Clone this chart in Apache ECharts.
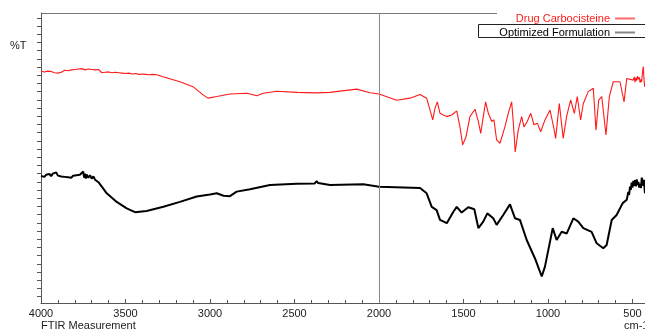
<!DOCTYPE html>
<html>
<head>
<meta charset="utf-8">
<script src="https://cdn.jsdelivr.net/npm/echarts@6/dist/echarts.min.js"></script>
<style>html,body{margin:0;padding:0;background:#fff}#c{width:645px;height:331px}</style>
</head>
<body>
<div id="c"></div>
<script>
// Drug Carbocisteine spectrum (wavenumber cm-1, %T in arbitrary units)
var drugWn = [4000,3990,3980,3970,3960,3950,3940,3930,3920,3910,3900,3890,3880,3870,3860,3850,3840,3830,3820,3810,3800,3790,3780,3770,3760,3750,3740,3730,3720,3710,3700,3690,3680,3670,3660,3650,3640,3630,3620,3610,3600,3590,3580,3570,3560,3550,3540,3530,3520,3500,3480,3460,3440,3420,3400,3380,3360,3340,3315,
3278,3178,3101,3041,3012,2959,2882,2781,2722,2686,2604,2485,2367,2290,2132,2053,2000,1895,1817,1757,1718,1698,1682,1669,1655,1639,1620,1599,1570,1540,1521,1505,1485,1462,1432,1412,1398,1383,1369,1353,1333,1320,1304,1284,1255,1235,1215,1205,1194,1176,1156,1142,1123,1102,1083,1063,1043,1018,988,965,955,933,910,890,866,844,827,807,791,762,732,716,700,682,657,637,614,574,550,534,495,490,485,480,475,470,466,460,455,450,446,440,436,432,428];
var drugT = [59.0,59.3,58.8,59.2,59.0,59.4,58.9,59.1,58.6,58.9,58.5,58.9,58.7,59.0,59.2,58.8,59.1,59.0,59.3,59.0,59.4,59.1,59.5,59.2,59.6,60.0,59.3,59.2,59.5,59.3,59.4,59.1,59.3,59.0,59.4,59.8,58.6,58.3,58.7,58.4,58.8,58.5,58.6,58.4,58.7,58.5,58.6,58.4,58.5,58.4,58.5,58.3,58.4,58.2,58.3,58.2,58.1,58.2,58.1,
57.6,56.4,55.2,53.2,52.4,52.8,53.4,53.6,53.0,53.6,54.1,53.8,53.7,53.8,54.6,53.7,53.4,51.9,52.4,53.3,52.4,49.5,47.1,49.9,51.5,48.7,48.3,47.9,48.3,49.3,45.4,41.0,43.0,47.9,49.7,46.7,43.8,47.9,51.5,48.7,46.7,47.1,42.2,41.4,45.4,48.7,51.5,46.3,39.3,44.6,47.9,45.4,46.7,48.7,45.9,46.3,44.2,47.1,49.5,45.0,42.6,51.1,42.6,47.9,52.0,48.7,52.8,47.1,51.1,54.0,54.8,44.6,51.9,52.8,43.4,52.8,56.4,56.4,51.5,57.2,56.8,57.6,56.3,57.4,56.7,57.8,57.0,57.5,56.2,57.0,56.4,59.0,60.1,57.0,55.2];

// Optimized Formulation spectrum
var formWn = [4000,3990,3980,3970,3960,3950,3940,3930,3920,3910,3900,3890,3880,3870,3860,3850,3840,3830,3820,3810,3800,3790,3780,3770,3760,3750,3745,3740,3735,3730,3720,3710,3700,3690,3680,3670,3660,3651,3611,3552,3493,3444,3375,3276,3178,3079,3000,2960,2920,2882,2842,2763,2645,2487,2380,2369,2360,2290,2093,2000,1757,1718,1688,1659,1639,1599,1560,1540,1511,1472,1436,1412,1383,1359,1324,1304,1265,1225,1195,1166,1126,1077,1037,1018,972,949,919,889,850,821,791,742,712,673,653,623,594,558,534,525,520,515,510,505,500,495,490,485,480,475,470,465,460,456,450,445,440,436,432,428,426];
var formT = [33.4,33.8,33.2,33.7,33.5,33.9,33.4,34.0,33.6,34.3,33.5,33.8,33.3,33.6,33.2,33.5,33.1,33.4,33.0,33.5,33.3,33.6,33.2,33.7,33.4,34.5,33.0,34.0,32.8,33.8,33.0,33.6,32.8,33.3,32.5,32.6,31.9,31.6,29.2,27.1,25.5,24.6,24.9,25.9,27.1,28.4,28.9,29.2,28.6,28.5,29.6,30.2,31.2,31.5,31.6,32.2,31.7,31.2,31.4,30.8,30.5,29.2,25.9,25.1,22.7,21.9,24.7,25.9,24.5,25.8,25.3,20.7,22.3,24.3,23.1,21.5,23.9,26.5,23.1,22.7,17.8,13.3,8.9,11.3,20.7,17.8,19.8,19.4,23.1,22.3,20.7,19.8,17.0,15.8,16.6,22.7,23.9,26.8,27.6,29.5,28.8,30.8,30.0,31.8,30.6,32.2,31.0,32.4,30.9,32.6,31.2,32.0,30.6,31.5,30.5,33.0,33.2,31.0,32.5,30.0,29.2];

var xTickValues = [4000,3500,3000,2500,2000,1500,1000,500];
var yTickValues = [4,6,8,10,12,14,16,18,20,22,24,26,28,30,32,34,36,38,40,42,44,46,48,50,52,54,56,58,60,62,64,66,68,70,72];

function pairs(xs, ys){ var o=[]; for(var i=0;i<xs.length;i++){ o.push([xs[i], ys[i]]); } return o; }

var chart = echarts.init(document.getElementById('c'), null, {renderer:'canvas'});
var FONT = 'Liberation Sans, Arial, sans-serif';
chart.setOption({
  animation: false,
  backgroundColor: '#ffffff',
  grid: {left: 41, width: 676, top: 13, height: 290, containLabel: false, outerBoundsMode: 'none'},
  legend: {
    orient: 'vertical', right: 5, top: 8, align: 'right',
    itemWidth: 20, itemHeight: 2, itemGap: 3, icon: 'rect',
    textStyle: {fontFamily: FONT, fontSize: 11, color: '#000'},
    data: [
      {name: 'Drug Carbocisteine', textStyle: {color: '#ff1a1a'}, itemStyle: {color: '#ff6a6a'}},
      {name: 'Optimized Formulation', textStyle: {color: '#000'}, itemStyle: {color: '#888'}}
    ]
  },
  xAxis: {
    type: 'value', inverse: true, min: 0, max: 4000, interval: 500,
    axisLine: {show: true, onZero: false, lineStyle: {color: '#555', width: 1}},
    axisTick: {show: true, inside: true, length: 4, lineStyle: {color: '#555'}},
    minorTick: {show: true, splitNumber: 5, length: 3, lineStyle: {color: '#555'}},
    splitLine: {show: false},
    axisLabel: {fontFamily: FONT, fontSize: 11, color: '#222', margin: 5, showMinLabel: true, showMaxLabel: true,
      formatter: function(v){ return xTickValues.indexOf(v) >= 0 ? String(v) : ''; }}
  },
  yAxis: {
    type: 'value', min: 2.44, max: 73.17, position: 'left',
    axisLine: {show: true, onZero: false, lineStyle: {color: '#555', width: 1}},
    axisTick: {show: true, inside: false, length: 4, customValues: yTickValues, lineStyle: {color: '#555'}},
    axisLabel: {show: false},
    splitLine: {show: false}
  },
  graphic: [
    {type: 'line', shape: {x1: 41, y1: 13.5, x2: 497, y2: 13.5}, style: {stroke: '#777', lineWidth: 1}},
    {type: 'rect', shape: {x: 478.5, y: 24.5, width: 180, height: 13}, style: {fill: 'none', stroke: '#222', lineWidth: 1}, z: 1},
    {type: 'text', left: 10, top: 40, style: {text: '%T', font: '11px Liberation Sans, Arial, sans-serif', fill: '#222'}},
    {type: 'text', left: 41, top: 320, style: {text: 'FTIR Measurement', font: '11px Liberation Sans, Arial, sans-serif', fill: '#222'}},
    {type: 'text', left: 624, top: 320, style: {text: 'cm-1', font: '11px Liberation Sans, Arial, sans-serif', fill: '#222'}}
  ],
  series: [
    {
      name: 'Drug Carbocisteine', type: 'line', symbol: 'none',
      data: pairs(drugWn, drugT),
      lineStyle: {color: '#ff1a1a', width: 1.1},
      itemStyle: {color: '#ff1a1a'}, z: 3
    },
    {
      name: 'Optimized Formulation', type: 'line', symbol: 'none',
      data: pairs(formWn, formT),
      lineStyle: {color: '#000', width: 2},
      itemStyle: {color: '#000'}, z: 3,
      markLine: {
        silent: true, symbol: ['none','none'], label: {show: false},
        lineStyle: {color: '#888', width: 1, type: 'solid'},
        data: [{xAxis: 2000}]
      }
    }
  ]
});
</script>
</body>
</html>
